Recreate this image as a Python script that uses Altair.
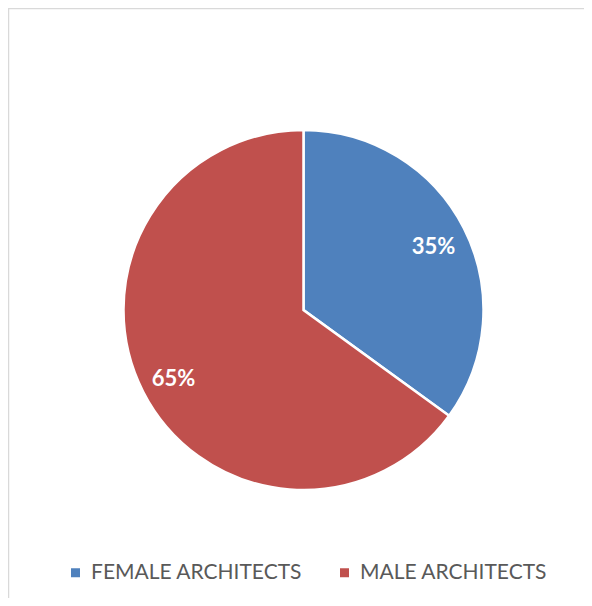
import altair as alt
import pandas as pd

categories = ["FEMALE ARCHITECTS", "MALE ARCHITECTS"]
shares = [35, 65]
labels = ["35%", "65%"]
colors = ["#4F81BD", "#C0504D"]

df = pd.DataFrame({"cat": categories, "share": shares, "label": labels, "order": [0, 1]})

W, H = 576, 590
CX, CY = 295.5, 302

base = alt.Chart(df).encode(
    theta=alt.Theta("share:Q", stack=True),
    order=alt.Order("order:Q"),
)

pie = base.mark_arc(outerRadius=180, stroke="white", strokeWidth=2.5).encode(
    x=alt.value(CX), y=alt.value(CY),
    color=alt.Color(
        "cat:N",
        scale=alt.Scale(domain=categories, range=colors),
        legend=alt.Legend(
            title=None, orient="none", direction="horizontal",
            legendX=57, legendY=554,
            symbolType="square", symbolSize=81, symbolStrokeWidth=0,
            labelFont="Lato", labelFontSize=21, labelColor="#595959",
            labelOffset=5, columnPadding=31, padding=0, labelLimit=0,
            symbolOpacity=1,
        ),
    ),
)

text = base.mark_text(radius=146, font="Lato", fontSize=22, fontWeight="bold",
                      color="white", dy=3).encode(
    x=alt.value(CX), y=alt.value(CY), text="label:N")

chart = alt.layer(pie, text).properties(
    width=W, height=H, padding=0,
    autosize=alt.AutoSizeParams(type="none"),
    background="white",
).configure_view(
    stroke="#d9d9d9", strokeWidth=2.5,
    strokeDash=[W, H + W, H],
)

chart.save("out.html", embed_options={"renderer": "svg", "actions": False})
